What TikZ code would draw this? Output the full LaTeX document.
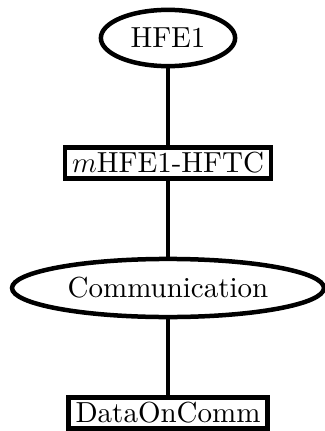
\RequirePackage{fix-cm}
\documentclass[tikz,border=0pt]{standalone}
\usepackage{fontspec}
\setmainfont{lmroman10-regular}[Extension=.otf, ItalicFont=lmroman10-italic]
\usetikzlibrary{positioning,shapes.geometric}
\begin{document}
\begin{tikzpicture}[
x=1pt,y=1pt,
node distance=125pt, on grid,
concept/.style={ellipse, draw=black, line width=4.5pt, inner sep=10pt, font=\fontsize{29}{34}\selectfont},
relation/.style={rectangle, draw=black, line width=4.5pt, inner xsep=7pt, inner ysep=5pt, font=\fontsize{29}{34}\selectfont}
]
\useasboundingbox (0,0) rectangle (324,-431);
\node[concept](hfe)at(168,-38){HFE1};

\node[relation](m_hfe)[below=of hfe]{$m$HFE1-HFTC};
\node[concept](comm)[below=of m_hfe]{Communication};
\node[relation](data_comm)[below=of comm]{DataOnComm};

\draw[line width=4pt] (hfe.south) -- (m_hfe.north);
\draw[line width=4pt] (m_hfe.south) -- (comm.north);
\draw[line width=4pt] (comm.south) -- (data_comm.north);
\end{tikzpicture}
\end{document}
